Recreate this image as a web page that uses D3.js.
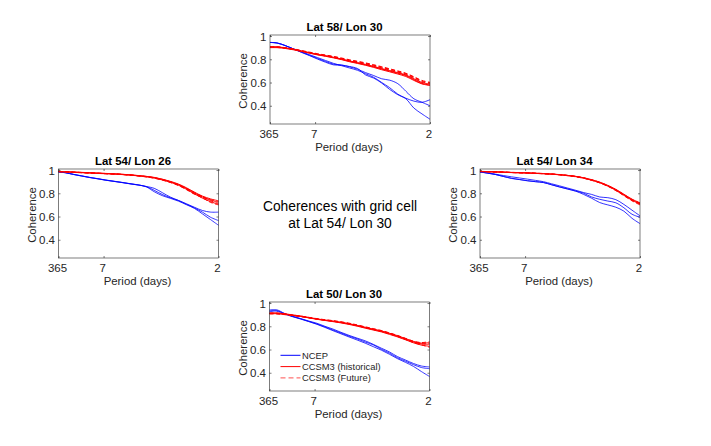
<!DOCTYPE html>
<html>
<head>
<meta charset="utf-8">
<script src="https://cdn.jsdelivr.net/npm/d3@7"></script>
<style>
  body { margin: 0; background: #fff; }
  svg { display: block; font-family: "Liberation Sans", Arial, sans-serif; }
</style>
</head>
<body>
<div id="chart"></div>
<script>
// frequencies (cycles/day) at which the coherences were read
var freq = [0.0027, 0.025, 0.05, 0.075, 0.1, 0.125, 0.15, 0.175, 0.2, 0.225, 0.25,
            0.275, 0.3, 0.325, 0.35, 0.375, 0.4, 0.425, 0.45, 0.475, 0.5];
var xTickFreq = [1 / 365, 1 / 7, 1 / 2];
var xTickLabels = ["365", "7", "2"];
var yTicks = [0.4, 0.6, 0.8, 1];
var yTickLabels = ["0.4", "0.6", "0.8", "1"];
var legendLabels = ["NCEP", "CCSM3 (historical)", "CCSM3 (Future)"];
var titles = ["Lat 58/ Lon 30", "Lat 54/ Lon 26", "Lat 54/ Lon 34", "Lat 50/ Lon 30"];
var centreText = ["Coherences with grid cell", "at Lat 54/ Lon 30"];

// Lat 58 / Lon 30
var ncepN = [
  [0.945,0.94,0.918,0.89,0.865,0.84,0.815,0.79,0.765,0.745,0.725,0.705,0.675,0.645,0.60,0.555,0.50,0.465,0.44,0.43,0.452],
  [0.945,0.94,0.918,0.89,0.862,0.835,0.808,0.782,0.758,0.752,0.735,0.714,0.685,0.66,0.632,0.62,0.59,0.525,0.46,0.43,0.40],
  [0.945,0.94,0.918,0.89,0.86,0.832,0.802,0.775,0.752,0.748,0.738,0.72,0.665,0.638,0.595,0.54,0.495,0.46,0.38,0.33,0.284]
];
var histN = [
  [0.905,0.905,0.897,0.885,0.870,0.855,0.840,0.828,0.815,0.800,0.782,0.768,0.752,0.735,0.716,0.698,0.680,0.660,0.625,0.592,0.578],
  [0.900,0.900,0.893,0.882,0.868,0.853,0.838,0.826,0.812,0.797,0.779,0.764,0.748,0.730,0.710,0.692,0.673,0.652,0.618,0.588,0.575],
  [0.908,0.907,0.899,0.888,0.873,0.858,0.843,0.831,0.818,0.803,0.786,0.771,0.756,0.739,0.720,0.703,0.685,0.665,0.632,0.600,0.585]
];
var futN = [
  [0.905,0.905,0.898,0.887,0.873,0.859,0.845,0.834,0.822,0.808,0.792,0.779,0.765,0.749,0.731,0.714,0.696,0.676,0.645,0.612,0.598],
  [0.902,0.902,0.895,0.884,0.870,0.856,0.842,0.830,0.818,0.804,0.788,0.774,0.760,0.744,0.726,0.708,0.690,0.670,0.640,0.605,0.590],
  [0.908,0.908,0.900,0.890,0.876,0.862,0.848,0.837,0.825,0.811,0.796,0.783,0.769,0.753,0.736,0.718,0.700,0.680,0.650,0.618,0.602]
];

// Lat 54 / Lon 26
var ncepW = [
  [0.983,0.977,0.963,0.950,0.937,0.926,0.914,0.904,0.894,0.883,0.873,0.859,0.843,0.806,0.768,0.739,0.710,0.680,0.652,0.638,0.638],
  [0.983,0.977,0.962,0.949,0.936,0.925,0.913,0.903,0.893,0.882,0.872,0.858,0.826,0.790,0.762,0.739,0.706,0.675,0.638,0.594,0.565],
  [0.983,0.976,0.961,0.948,0.935,0.924,0.912,0.902,0.892,0.881,0.871,0.856,0.814,0.780,0.757,0.733,0.702,0.670,0.623,0.574,0.525]
];
var histW = [
  [0.988,0.985,0.982,0.979,0.976,0.973,0.970,0.967,0.963,0.958,0.952,0.945,0.935,0.920,0.900,0.876,0.843,0.803,0.768,0.742,0.722],
  [0.986,0.983,0.980,0.977,0.974,0.971,0.968,0.965,0.961,0.956,0.950,0.942,0.931,0.915,0.895,0.870,0.835,0.795,0.758,0.728,0.705],
  [0.989,0.986,0.983,0.980,0.977,0.974,0.971,0.968,0.964,0.959,0.953,0.946,0.937,0.922,0.903,0.880,0.848,0.810,0.776,0.752,0.735]
];
var futW = [
  [0.988,0.985,0.982,0.979,0.976,0.973,0.970,0.967,0.963,0.958,0.951,0.944,0.934,0.919,0.899,0.874,0.842,0.808,0.770,0.745,0.730],
  [0.987,0.984,0.981,0.978,0.975,0.972,0.969,0.966,0.962,0.957,0.951,0.943,0.933,0.917,0.897,0.872,0.838,0.798,0.772,0.735,0.712],
  [0.986,0.983,0.980,0.977,0.974,0.971,0.968,0.965,0.961,0.956,0.949,0.941,0.930,0.914,0.893,0.867,0.832,0.792,0.762,0.722,0.700]
];

// Lat 54 / Lon 34
var ncepE = [
  [0.983,0.976,0.965,0.953,0.942,0.932,0.922,0.911,0.900,0.882,0.864,0.845,0.826,0.806,0.790,0.768,0.762,0.745,0.704,0.655,0.606],
  [0.983,0.974,0.962,0.945,0.928,0.918,0.907,0.900,0.893,0.874,0.855,0.838,0.820,0.800,0.768,0.748,0.733,0.718,0.675,0.620,0.594],
  [0.983,0.974,0.962,0.945,0.930,0.919,0.909,0.900,0.892,0.873,0.854,0.836,0.818,0.790,0.757,0.720,0.700,0.680,0.646,0.585,0.539]
];
var histE = [
  [0.988,0.986,0.984,0.982,0.979,0.977,0.975,0.972,0.969,0.965,0.960,0.953,0.945,0.932,0.915,0.893,0.865,0.830,0.787,0.745,0.712],
  [0.987,0.985,0.983,0.981,0.978,0.976,0.974,0.971,0.968,0.964,0.959,0.952,0.943,0.930,0.912,0.890,0.861,0.825,0.782,0.740,0.705],
  [0.989,0.987,0.985,0.983,0.980,0.978,0.976,0.973,0.970,0.966,0.961,0.954,0.946,0.934,0.917,0.896,0.868,0.834,0.792,0.750,0.718]
];
var futE = [
  [0.988,0.986,0.984,0.982,0.979,0.977,0.975,0.972,0.969,0.965,0.960,0.953,0.944,0.931,0.914,0.892,0.864,0.828,0.785,0.742,0.710],
  [0.987,0.985,0.983,0.981,0.978,0.976,0.974,0.971,0.968,0.964,0.959,0.951,0.942,0.929,0.911,0.889,0.860,0.823,0.779,0.735,0.700],
  [0.988,0.986,0.984,0.982,0.980,0.978,0.976,0.973,0.970,0.966,0.961,0.954,0.946,0.933,0.916,0.894,0.866,0.831,0.789,0.747,0.715]
];

// Lat 50 / Lon 30
var ncepS = [
  [0.940,0.942,0.910,0.886,0.866,0.845,0.826,0.800,0.776,0.748,0.722,0.698,0.675,0.645,0.612,0.580,0.540,0.510,0.480,0.458,0.450],
  [0.932,0.935,0.908,0.884,0.864,0.842,0.820,0.795,0.768,0.742,0.715,0.692,0.665,0.640,0.603,0.570,0.530,0.500,0.470,0.445,0.435],
  [0.925,0.930,0.905,0.882,0.862,0.840,0.817,0.790,0.762,0.735,0.708,0.682,0.655,0.625,0.595,0.560,0.522,0.490,0.455,0.410,0.368]
];
var histS = [
  [0.912,0.912,0.905,0.895,0.886,0.874,0.862,0.852,0.843,0.832,0.820,0.805,0.788,0.772,0.757,0.737,0.715,0.690,0.665,0.648,0.645],
  [0.908,0.908,0.902,0.893,0.884,0.872,0.860,0.850,0.840,0.829,0.816,0.801,0.784,0.768,0.752,0.731,0.709,0.684,0.658,0.638,0.628],
  [0.915,0.915,0.908,0.898,0.888,0.876,0.864,0.854,0.845,0.835,0.823,0.808,0.792,0.776,0.761,0.741,0.720,0.695,0.670,0.655,0.660]
];
var futS = [
  [0.910,0.910,0.904,0.895,0.886,0.875,0.864,0.855,0.846,0.836,0.823,0.808,0.792,0.776,0.760,0.740,0.718,0.693,0.667,0.650,0.652],
  [0.906,0.906,0.900,0.892,0.883,0.872,0.861,0.852,0.843,0.833,0.820,0.805,0.789,0.772,0.756,0.735,0.712,0.687,0.660,0.640,0.620],
  [0.913,0.913,0.906,0.897,0.888,0.877,0.866,0.857,0.849,0.839,0.827,0.812,0.796,0.780,0.764,0.744,0.722,0.697,0.672,0.660,0.668]
];

var W = 711, H = 446;
var pw = 160, ph = 89;
var blue = "#0000ff", red = "#ff0000", axisCol = "#262626";

var panels = [
  { title: titles[0], ncep: ncepN, hist: histN, fut: futN, x0: 270, y0: 35, legend: false },
  { title: titles[1], ncep: ncepW, hist: histW, fut: futW, x0: 58.5, y0: 169, legend: false },
  { title: titles[2], ncep: ncepE, hist: histE, fut: futE, x0: 480, y0: 169, legend: false },
  { title: titles[3], ncep: ncepS, hist: histS, fut: futS, x0: 269.5, y0: 302, legend: true }
];

var svg = d3.select("#chart").append("svg")
    .attr("width", W)
    .attr("height", H);

var x = d3.scaleLinear().domain([1 / 365, 0.5]).range([0, pw]);
var y = d3.scaleLinear().domain([0.243, 1.009]).range([ph, 0]);

var line = d3.line()
    .x(function(d, i) { return x(freq[i]); })
    .y(function(d) { return y(d); })
    .curve(d3.curveCatmullRom.alpha(0.5));

panels.forEach(function(p) {
    var g = svg.append("g").attr("transform", "translate(" + p.x0 + "," + p.y0 + ")");

    // tick marks on all four sides, pointing in
    var tl = 2;
    var bottomAx = d3.axisBottom(x).tickValues(xTickFreq).tickSize(-tl).tickFormat(function(d, i) { return xTickLabels[i]; });
    var topAx = d3.axisTop(x).tickValues(xTickFreq).tickSize(-tl).tickFormat("");
    var leftAx = d3.axisLeft(y).tickValues(yTicks).tickSize(-tl).tickFormat(function(d, i) { return yTickLabels[i]; });
    var rightAx = d3.axisRight(y).tickValues(yTicks).tickSize(-tl).tickFormat("");

    var gb = g.append("g").attr("transform", "translate(0," + ph + ")").call(bottomAx);
    var gt = g.append("g").call(topAx);
    var gl = g.append("g").call(leftAx);
    var gr = g.append("g").attr("transform", "translate(" + pw + ",0)").call(rightAx);
    [gb, gt, gl, gr].forEach(function(a) {
        a.select(".domain").remove();
        a.selectAll("line").attr("stroke", axisCol).attr("stroke-width", 0.6);
    });
    gb.selectAll("text").attr("y", 14.3).attr("dy", 0).attr("dx", -1.5)
        .style("font-size", "11.5px").attr("fill", axisCol);
    gl.selectAll("text").attr("x", -3.5).attr("dy", "0.36em")
        .style("font-size", "11.5px").attr("fill", axisCol);

    var lines = g.append("g");
    p.ncep.forEach(function(s) {
        lines.append("path").attr("d", line(s)).attr("fill", "none")
            .attr("stroke", blue).attr("stroke-width", 0.8);
    });
    p.hist.forEach(function(s) {
        lines.append("path").attr("d", line(s)).attr("fill", "none")
            .attr("stroke", red).attr("stroke-width", 1);
    });
    p.fut.forEach(function(s) {
        lines.append("path").attr("d", line(s)).attr("fill", "none")
            .attr("stroke", red).attr("stroke-width", 1)
            .attr("stroke-dasharray", "4,2.5");
    });

    // box
    g.append("rect").attr("width", pw).attr("height", ph)
        .attr("fill", "none").attr("stroke", axisCol).attr("stroke-width", 0.6);

    g.append("text").attr("x", pw / 2 - 5.5).attr("y", -4)
        .attr("text-anchor", "middle").style("font-size", "11.4px")
        .style("font-weight", "bold").attr("fill", "#000").text(p.title);

    g.append("text").attr("x", pw / 2 - 1).attr("y", ph + 27.4)
        .attr("text-anchor", "middle").style("font-size", "11.4px")
        .attr("fill", axisCol).text("Period (days)");

    g.append("text")
        .attr("transform", "translate(-23," + (ph / 2 + 1.5) + ") rotate(-90)")
        .attr("text-anchor", "middle").style("font-size", "11.4px")
        .attr("fill", axisCol).text("Coherence");

    if (p.legend) {
        var lg = g.append("g").attr("transform", "translate(11,53.3)");
        var styles = [
            { c: blue, dash: null },
            { c: red, dash: null },
            { c: "#ff5050", dash: "5,3" }
        ];
        legendLabels.forEach(function(lab, i) {
            var yy = i * 11.3;
            lg.append("line").attr("x1", 0).attr("x2", 20).attr("y1", yy).attr("y2", yy)
                .attr("stroke", styles[i].c).attr("stroke-width", 1)
                .attr("stroke-dasharray", styles[i].dash);
            lg.append("text").attr("x", 21.5).attr("y", yy).attr("dy", "0.35em")
                .style("font-size", "9.4px").attr("fill", axisCol).text(lab);
        });
    }
});

svg.selectAll(".centre").data(centreText).enter().append("text")
    .attr("class", "centre")
    .attr("x", 340)
    .attr("y", function(d, i) { return 211 + i * 17.3; })
    .attr("text-anchor", "middle")
    .style("font-size", "13.8px")
    .attr("fill", "#000")
    .text(function(d) { return d; });
</script>
</body>
</html>
